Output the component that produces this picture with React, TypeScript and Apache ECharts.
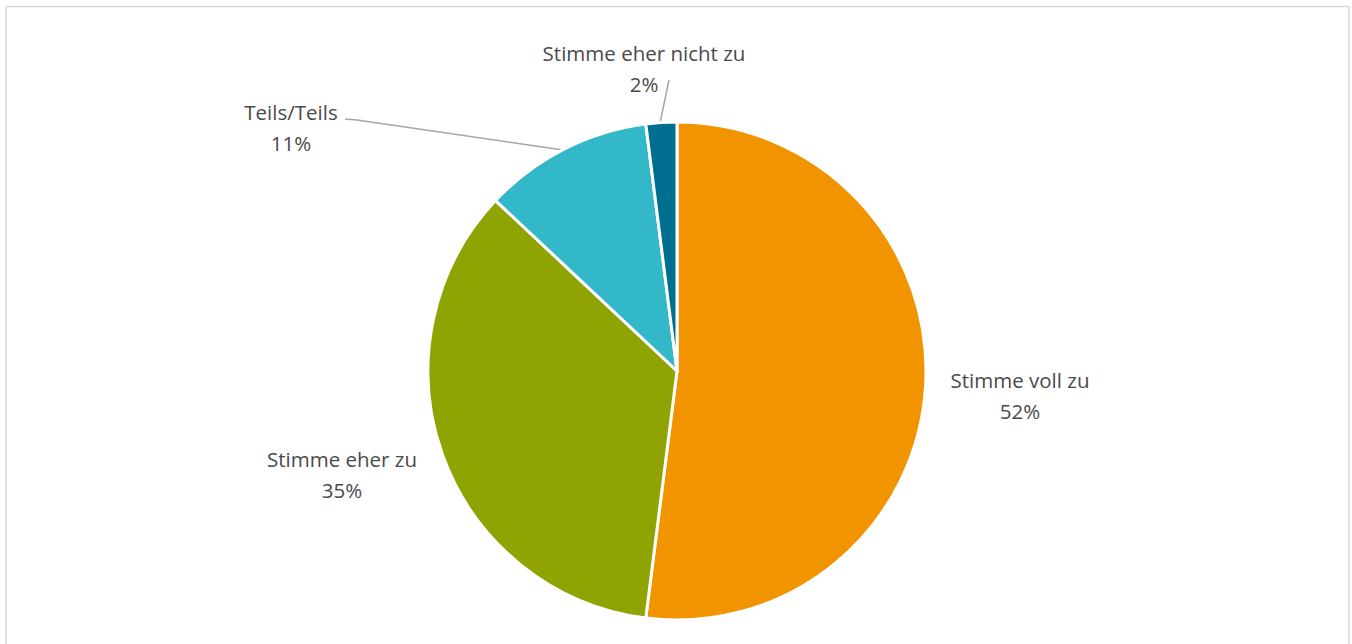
import React, { useEffect, useRef } from "react";
import * as echarts from "echarts";

const categories = ["Stimme voll zu", "Stimme eher zu", "Teils/Teils", "Stimme eher nicht zu"];
const values = [52, 35, 11, 2];
const colors = ["#F29400", "#8FA402", "#33B8CA", "#006E8F"];

// label anchor points (layout only)
const labelPos: [number, number][] = [
  [1020, 395],
  [342, 474],
  [291, 127],
  [644, 68],
];
const linePts: (number[][] | null)[] = [
  null,
  null,
  [[345, 119], [357, 120], [563, 150]],
  [[669, 80], [660, 123]],
];

export default function App() {
  const ref = useRef<HTMLDivElement>(null);
  useEffect(() => {
    if (!ref.current) return;
    const chart = echarts.init(ref.current, undefined, { renderer: "svg" });
    chart.setOption({
      animation: false,
      backgroundColor: "#ffffff",
      graphic: [
        {
          type: "rect",
          shape: { x: 6, y: 6.5, width: 1343, height: 700 },
          style: { fill: "none", stroke: "#d9d9d9", lineWidth: 1.5 },
          silent: true,
        },
      ],
      series: [
        {
          type: "pie",
          center: [677, 371],
          radius: 249,
          startAngle: 90,
          clockwise: true,
          avoidLabelOverlap: false,
          itemStyle: { borderColor: "#ffffff", borderWidth: 3 },
          label: {
            show: true,
            position: "outside",
            formatter: "{b}\n{d}%",
            color: "#4a4a4a",
            fontSize: 20.5,
            fontFamily: "Open Sans",
            lineHeight: 31,
            align: "center",
          },
          labelLine: {
            show: true,
            lineStyle: { color: "#a6a6a6", width: 1.5 },
          },
          labelLayout: (p: any) => {
            const i = p.dataIndex;
            const res: any = {
              x: labelPos[i][0],
              y: labelPos[i][1],
              align: "center",
              verticalAlign: "middle",
            };
            if (linePts[i]) res.labelLinePoints = linePts[i];
            return res;
          },
          data: categories.map((c, i) => ({
            name: c,
            value: values[i],
            itemStyle: { color: colors[i] },
            labelLine: { show: linePts[i] !== null },
          })),
        },
      ],
    });
    return () => chart.dispose();
  }, []);
  return (
    <div
      ref={ref}
      style={{ position: "fixed", left: 0, top: 0, width: 1352, height: 644 }}
    />
  );
}
